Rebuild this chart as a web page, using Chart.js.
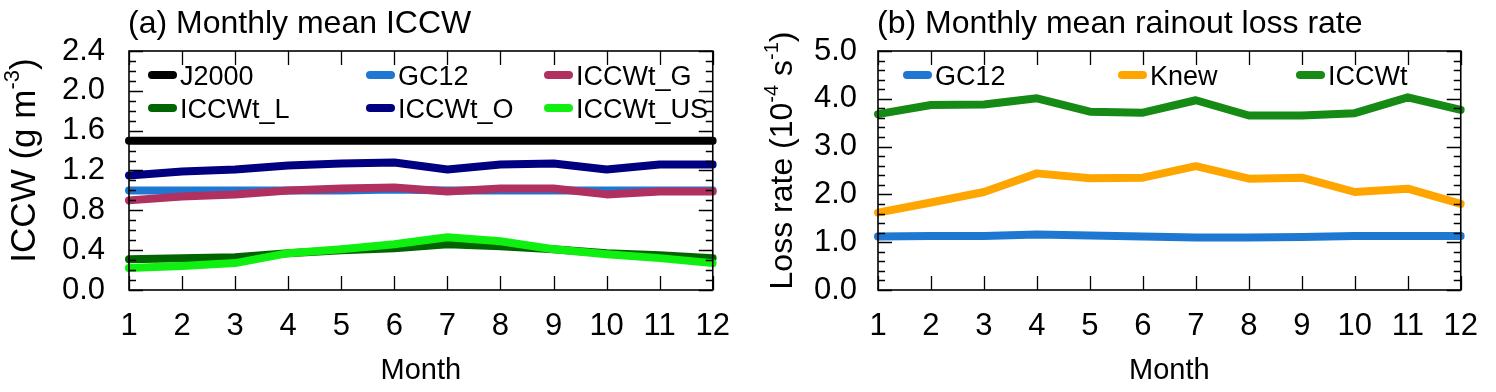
<!DOCTYPE html>
<html><head><meta charset="utf-8">
<script src="https://cdn.jsdelivr.net/npm/chart.js@4.4.1/dist/chart.umd.min.js"></script>
<style>
html,body{margin:0;padding:0;background:#fff;}
#wrap{position:relative;width:1496px;height:392px;overflow:hidden;}
.pane{position:absolute;top:0;width:748px;height:392px;}
#pa{left:0;} #pb{left:748px;}
</style></head><body>
<div id="wrap">
<div class="pane" id="pa"><canvas id="ca" width="748" height="392"></canvas></div>
<div class="pane" id="pb"><canvas id="cb" width="748" height="392"></canvas></div>
</div>
<script>
// ---------- data ----------
const months = ['1','2','3','4','5','6','7','8','9','10','11','12'];
const j2000    = [1.50,1.50,1.50,1.50,1.50,1.50,1.50,1.50,1.50,1.50,1.50,1.50];
const gc12Iccw = [1.00,1.00,1.00,1.00,1.00,1.01,1.00,1.00,1.00,1.00,1.00,1.00];
const iccwtG   = [0.90,0.94,0.96,1.00,1.02,1.03,0.99,1.02,1.02,0.96,0.99,0.99];
const iccwtL   = [0.31,0.32,0.33,0.37,0.40,0.42,0.46,0.44,0.41,0.37,0.35,0.32];
const iccwtO   = [1.15,1.19,1.21,1.25,1.27,1.28,1.21,1.26,1.27,1.21,1.26,1.26];
const iccwtUS  = [0.22,0.24,0.27,0.37,0.41,0.46,0.53,0.49,0.41,0.36,0.32,0.27];
const gc12Loss  = [1.12,1.13,1.13,1.16,1.14,1.12,1.10,1.10,1.11,1.13,1.13,1.13];
const knewLoss  = [1.62,1.83,2.05,2.44,2.34,2.35,2.59,2.33,2.35,2.05,2.12,1.80];
const iccwtLoss = [3.68,3.87,3.88,4.01,3.73,3.71,3.97,3.65,3.65,3.70,4.03,3.77];
const seriesA = ['J2000','GC12','ICCWt_G','ICCWt_L','ICCWt_O','ICCWt_US'];
const seriesB = ['GC12','Knew','ICCWt'];
const titleA = '(a) Monthly mean ICCW';
const titleB = '(b) Monthly mean rainout loss rate';
const yTitleA = [{t:'ICCW (g m'},{t:'-3',sup:true},{t:')'}];
const yTitleB = [{t:'Loss rate (10'},{t:'-4',sup:true},{t:' s'},{t:'-1',sup:true},{t:')'}];
const xTitle = 'Month';

// ---------- styling ----------
const FONT = "'Liberation Sans', Arial, Helvetica, sans-serif";
const colorsA = ['#000000','#1e78d2','#b03060','#006400','#000080','#10f010'];
const colorsB = ['#1e78d2','#ffa500','#158a15'];
const LW = 8;

const decor = {
  id: 'decor',
  afterDraw(chart, args, o) {
    const {ctx, chartArea: a, scales: {x, y}} = chart;
    ctx.save();
    ctx.strokeStyle = '#000'; ctx.lineWidth = 1.6;
    ctx.strokeRect(a.left, a.top, a.right - a.left, a.bottom - a.top);
    ctx.beginPath(); ctx.lineWidth = 1.3;
    for (let i = 0; i < x.ticks.length; i++) {
      const px = Math.round(x.getPixelForTick(i)) + 0.5;
      ctx.moveTo(px, a.bottom); ctx.lineTo(px, a.bottom - o.xLen);
      ctx.moveTo(px, a.top); ctx.lineTo(px, a.top + o.xLen);
    }
    const n = Math.round((y.max - y.min) / o.minor);
    const per = Math.round(o.major / o.minor);
    for (let k = 0; k <= n; k++) {
      const py = Math.round(y.getPixelForValue(y.min + k * o.minor)) + 0.5;
      const L = (k % per === 0) ? o.yMajor : o.yMinor;
      ctx.moveTo(a.left, py); ctx.lineTo(a.left + L, py);
      ctx.moveTo(a.right, py); ctx.lineTo(a.right - L, py);
    }
    ctx.stroke();
    // title
    ctx.fillStyle = '#000';
    ctx.font = o.titleSize + 'px ' + FONT;
    ctx.textBaseline = 'alphabetic'; ctx.textAlign = 'left';
    ctx.fillText(o.title, a.left + o.titleDx, o.titleBase);
    // legend
    chart.data.datasets.forEach((ds, i) => {
      const cx = o.legCols[i % o.legCols.length];
      const cy = o.legRows[Math.floor(i / o.legCols.length)];
      ctx.beginPath(); ctx.strokeStyle = ds.borderColor; ctx.lineWidth = LW; ctx.lineCap = 'round';
      ctx.moveTo(cx + LW / 2, cy); ctx.lineTo(cx + o.legLen - LW / 2, cy); ctx.stroke();
      ctx.fillStyle = '#000'; ctx.font = o.legSize + 'px ' + FONT;
      ctx.fillText(ds.label, cx + o.legLen + 3, cy + o.legSize * 0.358);
    });
    // y title with superscripts
    const size = o.yTitleSize, ss = Math.round(size * 0.62);
    ctx.translate(o.yTitleX, (a.top + a.bottom) / 2 + o.yTitleDy);
    ctx.rotate(-Math.PI / 2);
    let total = 0;
    const ws = o.yTitle.map(p => { ctx.font = (p.sup ? ss : size) + 'px ' + FONT; const w = ctx.measureText(p.t).width; total += w; return w; });
    let tx = -total / 2;
    o.yTitle.forEach((p, i) => {
      ctx.font = (p.sup ? ss : size) + 'px ' + FONT;
      ctx.fillText(p.t, tx, p.sup ? size * (0.358 - 0.45) : size * 0.358);
      tx += ws[i];
    });
    ctx.restore();
  }
};

function makeChart(id, names, arrays, colors, yMax, yStep, padRight, leftW, yPad, deco) {
  const n = names.length;
  return new Chart(document.getElementById(id), {
    type: 'line',
    data: {
      labels: months,
      datasets: names.map((nm, i) => ({
        label: nm, data: arrays[i], borderColor: colors[i], backgroundColor: colors[i],
        borderWidth: LW, pointRadius: 0, tension: 0, fill: false,
        borderCapStyle: 'round', borderJoinStyle: 'round', order: n - i
      }))
    },
    options: {
      responsive: false, animation: false, devicePixelRatio: 1,
      layout: {padding: {top: 51, right: padRight, bottom: 0, left: 0}},
      plugins: {legend: {display: false}, tooltip: {enabled: false}, title: {display: false}, decor: deco},
      scales: {
        x: {
          offset: false,
          grid: {display: false, drawTicks: false},
          border: {display: false},
          ticks: {color: '#000', font: {family: FONT, size: 31}, padding: 18, maxRotation: 0, autoSkip: false},
          title: {display: true, text: xTitle, color: '#000', font: {family: FONT, size: 29}, padding: {top: 0, bottom: 4}},
          afterFit(s) { s.height = 102; }
        },
        y: {
          min: 0, max: yMax,
          grid: {display: false, drawTicks: false},
          border: {display: false},
          ticks: {stepSize: yStep, color: '#000', font: {family: FONT, size: 31}, padding: yPad, autoSkip: false,
                  callback: v => Number(v).toFixed(1)},
          afterFit(s) { s.width = leftW; }
        }
      }
    },
    plugins: [decor]
  });
}

makeChart('ca', seriesA, [j2000, gc12Iccw, iccwtG, iccwtL, iccwtO, iccwtUS], colorsA, 2.4, 0.4, 25, 129, 24, {
  xLen: 14, minor: 0.1, major: 0.4, yMajor: 14, yMinor: 7,
  title: titleA, titleSize: 32, titleDx: -1, titleBase: 33,
  legCols: [148, 366, 544], legRows: [75, 108], legLen: 29, legSize: 27,
  yTitle: yTitleA, yTitleSize: 35, yTitleX: 22, yTitleDy: -10
});
makeChart('cb', seriesB, [gc12Loss, knewLoss, iccwtLoss], colorsB, 5.0, 1.0, 18, 130, 21, {
  xLen: 14, minor: 0.2, major: 1.0, yMajor: 14, yMinor: 7,
  title: titleB, titleSize: 32, titleDx: -1, titleBase: 33,
  legCols: [155, 370, 548], legRows: [75], legLen: 29, legSize: 27,
  yTitle: yTitleB, yTitleSize: 32, yTitleX: 33, yTitleDy: -10
});
</script>
</body></html>
